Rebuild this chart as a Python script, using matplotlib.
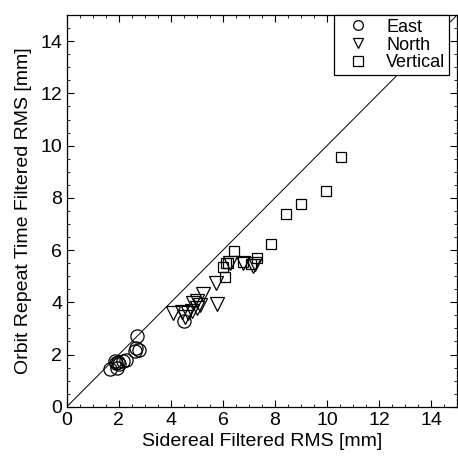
import matplotlib
matplotlib.use("Agg")
import matplotlib.pyplot as plt
from matplotlib.ticker import MultipleLocator

plt.rcParams['font.family'] = ['Liberation Sans', 'DejaVu Sans']

# East
east_x = [1.65, 1.91, 1.85, 1.95, 2.00, 1.90, 2.16, 2.29, 2.62, 2.78, 2.65, 2.71, 4.52]
east_y = [1.43, 1.47, 1.76, 1.72, 1.62, 1.68, 1.74, 1.80, 2.15, 2.18, 2.25, 2.70, 3.28]

# North
north_x = [4.09, 4.41, 4.67, 4.54, 4.80, 4.86, 4.99, 4.99, 5.12, 5.24, 5.78, 5.72, 6.27, 6.78, 7.25, 7.15]
north_y = [3.60, 3.64, 3.58, 3.45, 3.66, 3.96, 3.77, 4.04, 3.90, 4.32, 3.92, 4.75, 5.52, 5.52, 5.48, 5.40]

# Vertical
vert_x = [5.99, 6.08, 6.19, 6.10, 6.41, 6.78, 7.07, 7.29, 7.84, 8.42, 8.99, 9.95, 10.52]
vert_y = [5.34, 4.96, 5.49, 5.52, 5.98, 5.56, 5.47, 5.69, 6.24, 7.38, 7.77, 8.26, 9.58]

fig = plt.figure(figsize=(4.58, 4.57), dpi=100)
ax = fig.add_axes([0.146, 0.110, 0.852, 0.857])

ax.plot([0, 15], [0, 15], color='black', lw=0.7, zorder=1)

ax.plot(east_x, east_y, 'o', ms=9.5, mfc='none', mec='black', mew=0.9, label='East')
ax.plot(north_x, north_y, 'v', ms=10.5, mfc='none', mec='black', mew=0.9, label='North')
ax.plot(vert_x, vert_y, 's', ms=7.5, mfc='none', mec='black', mew=0.9, label='Vertical')

ax.set_xlim(0, 15)
ax.set_ylim(0, 15)
ax.xaxis.set_major_locator(MultipleLocator(2))
ax.yaxis.set_major_locator(MultipleLocator(2))
ax.xaxis.set_minor_locator(MultipleLocator(0.5))
ax.yaxis.set_minor_locator(MultipleLocator(0.5))
ax.tick_params(which='both', direction='in', top=True, right=True, labelsize=14)
ax.tick_params(which='major', length=5, width=0.8)
ax.tick_params(which='minor', length=2.5, width=0.6)
for s in ax.spines.values():
    s.set_linewidth(0.9)

ax.set_xlabel('Sidereal Filtered RMS [mm]', fontsize=14, labelpad=3)
ax.set_ylabel('Orbit Repeat Time Filtered RMS [mm]', fontsize=14, labelpad=6)

leg = ax.legend(loc='upper right', fontsize=13, fancybox=False, framealpha=1,
                edgecolor='black', borderaxespad=0.0, handletextpad=0.5,
                borderpad=0.2, labelspacing=0.05, handlelength=2.2,
                bbox_to_anchor=(0.98, 1.0))
leg.get_frame().set_linewidth(0.9)
for h in leg.legend_handles:
    h.set_markersize(7)

fig.savefig('out.png', dpi=100)
